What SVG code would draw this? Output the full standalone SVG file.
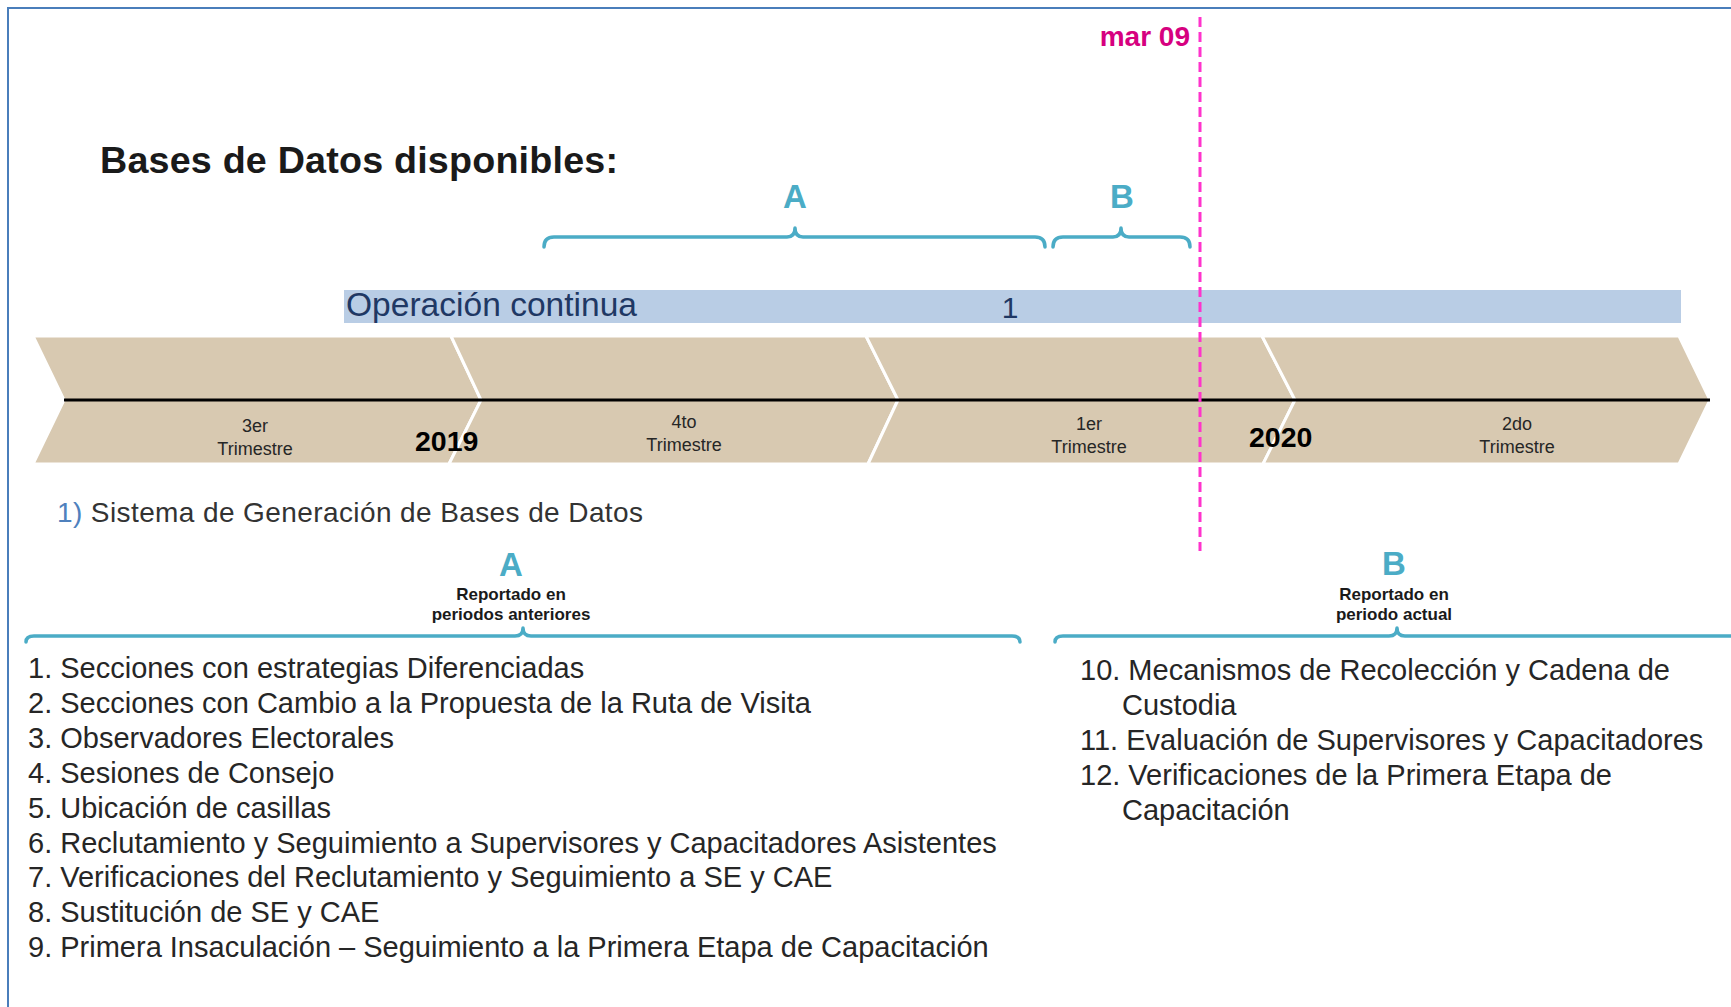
<svg xmlns="http://www.w3.org/2000/svg" width="1731" height="1007" viewBox="0 0 1731 1007">
<style>
  text { font-family: "Liberation Sans", Arial, sans-serif; }
  .chev { fill: #d8c9b1; stroke: #ffffff; stroke-width: 3; stroke-linejoin: miter; }
  .qt { font-size: 18px; fill: #262626; text-anchor: middle; }
  .yr { font-size: 28.5px; font-weight: bold; fill: #000000; }
  .brace { fill: none; stroke: #4bacc6; stroke-width: 3.5; stroke-linecap: round; stroke-linejoin: round; }
  .lbl { font-size: 33px; font-weight: bold; fill: #4bacc6; text-anchor: middle; }
  .rep { font-size: 17px; font-weight: bold; fill: #1a1a1a; text-anchor: middle; }
  .li { font-size: 29px; fill: #262626; }
</style>
<rect x="0" y="0" width="1731" height="1007" fill="#ffffff"/>
<path d="M8,1007 L8,8 L1731,8" fill="none" stroke="#4a7ebb" stroke-width="2"/>

<g id="title">
  <text x="100" y="173" font-size="37.7" font-weight="bold" fill="#1a1a1a" textLength="518" lengthAdjust="spacing">Bases de Datos disponibles:</text>
</g>

<g id="marker-mar09">
  <text x="1190" y="46" font-size="28" font-weight="bold" fill="#d6007f" text-anchor="end">mar 09</text>
</g>

<g id="op-continua">
  <rect x="344" y="290" width="1337" height="33" fill="#b9cde5"/>
  <text x="346" y="316" font-size="33" fill="#1f3864" textLength="291" lengthAdjust="spacingAndGlyphs">Operación continua</text>
  <text x="1010" y="318" font-size="30" fill="#1f3864" text-anchor="middle">1</text>
</g>

<g id="q3-2019">
  <polygon class="chev" points="33,336 451,336 481,400 449,464 33,464 64,400"/>
  <text class="qt" x="255" y="432">3er</text>
  <text class="qt" x="255" y="455">Trimestre</text>
</g>
<g id="q4-2019">
  <polygon class="chev" points="451,336 866,336 898,400 868,464 449,464 481,400"/>
  <text class="qt" x="684" y="428">4to</text>
  <text class="qt" x="684" y="451">Trimestre</text>
</g>
<g id="q1-2020">
  <polygon class="chev" points="866,336 1262,336 1295,400 1263,464 868,464 898,400"/>
  <text class="qt" x="1089" y="430">1er</text>
  <text class="qt" x="1089" y="453">Trimestre</text>
</g>
<g id="q2-2020">
  <polygon class="chev" points="1262,336 1679,336 1710,400 1679,464 1263,464 1295,400"/>
  <text class="qt" x="1517" y="430">2do</text>
  <text class="qt" x="1517" y="453">Trimestre</text>
</g>

<g id="connectors">
  <line x1="64" y1="400" x2="1710" y2="400" stroke="#000000" stroke-width="3"/>
  <path class="brace" d="M544,247 Q544,237 554,237 L787,237 Q795,237 795,228 Q795,237 803,237 L1035,237 Q1045,237 1045,247"/>
  <path class="brace" d="M1053,247 Q1053,237 1063,237 L1113,237 Q1121,237 1121,228 Q1121,237 1129,237 L1180,237 Q1190,237 1190,247"/>
  <path class="brace" d="M26,642 Q26,636 34,636 L515,636 Q523,636 523,628 Q523,636 531,636 L1012,636 Q1020,636 1020,642"/>
  <path class="brace" d="M1055,642 Q1055,636 1063,636 L1389,636 Q1397,636 1397,628 Q1397,636 1405,636 L1740,636"/>
</g>

<g id="years">
  <text class="yr" x="415" y="451">2019</text>
  <text class="yr" x="1249" y="447">2020</text>
</g>

<g id="cutoff-line">
  <line x1="1200" y1="17" x2="1200" y2="551" stroke="#ff33cc" stroke-width="3" stroke-dasharray="10 5"/>
</g>

<g id="top-labels">
  <text class="lbl" x="795" y="208">A</text>
  <text class="lbl" x="1122" y="208">B</text>
</g>

<g id="sistema">
  <text x="57" y="522" font-size="28" textLength="586" lengthAdjust="spacing"><tspan fill="#4f81bd">1)</tspan><tspan fill="#333333"> Sistema de Generación de Bases de Datos</tspan></text>
</g>

<g id="group-a">
  <text class="lbl" x="511" y="576">A</text>
  <text class="rep" x="511" y="600">Reportado en</text>
  <text class="rep" x="511" y="620">periodos anteriores</text>
  <text class="li" x="28" y="678">1. Secciones con estrategias Diferenciadas</text>
  <text class="li" x="28" y="713">2. Secciones con Cambio a la Propuesta de la Ruta de Visita</text>
  <text class="li" x="28" y="748">3. Observadores Electorales</text>
  <text class="li" x="28" y="783">4. Sesiones de Consejo</text>
  <text class="li" x="28" y="818">5. Ubicación de casillas</text>
  <text class="li" x="28" y="853">6. Reclutamiento y Seguimiento a Supervisores y Capacitadores Asistentes</text>
  <text class="li" x="28" y="887">7. Verificaciones del Reclutamiento y Seguimiento a SE y CAE</text>
  <text class="li" x="28" y="922">8. Sustitución de SE y CAE</text>
  <text class="li" x="28" y="957">9. Primera Insaculación – Seguimiento a la Primera Etapa de Capacitación</text>
</g>

<g id="group-b">
  <text class="lbl" x="1394" y="575">B</text>
  <text class="rep" x="1394" y="600">Reportado en</text>
  <text class="rep" x="1394" y="620">periodo actual</text>
  <text class="li" x="1080" y="680">10. Mecanismos de Recolección y Cadena de</text>
  <text class="li" x="1122" y="715">Custodia</text>
  <text class="li" x="1080" y="750">11. Evaluación de Supervisores y Capacitadores</text>
  <text class="li" x="1080" y="785">12. Verificaciones de la Primera Etapa de</text>
  <text class="li" x="1122" y="820">Capacitación</text>
</g>
</svg>
